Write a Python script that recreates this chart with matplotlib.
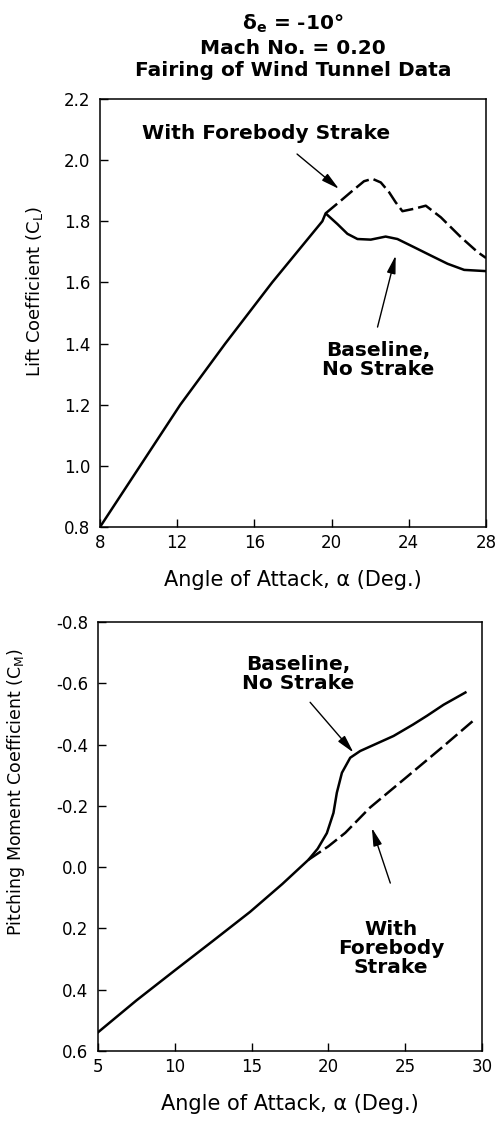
"""Lift and pitching moment vs angle of attack, baseline vs forebody strake."""

import matplotlib
matplotlib.use("Agg")
import matplotlib.pyplot as plt

plt.rcParams.update({
    "font.family": ["DejaVu Sans"],
    "mathtext.fontset": "dejavusans",
    "font.size": 12,
})

# --- lift coefficient
cl_base_alpha = [8.0, 10.08, 12.16, 14.49, 16.92, 19.52, 19.69, 20.3, 20.82,
                 21.34, 22.03, 22.8, 23.41, 24.28, 25.14, 26.01, 26.87, 28.0]
cl_base = [0.80, 1.00, 1.20, 1.40, 1.60, 1.80, 1.826, 1.791, 1.759, 1.742,
           1.740, 1.750, 1.742, 1.715, 1.688, 1.661, 1.641, 1.637]
cl_strake_alpha = [19.69, 20.47, 20.99, 21.68, 22.11, 22.55, 22.98, 23.32,
                   23.67, 24.28, 24.88, 25.66, 26.7, 27.57, 28.0]
cl_strake = [1.826, 1.867, 1.895, 1.931, 1.939, 1.927, 1.895, 1.862,
             1.833, 1.841, 1.851, 1.813, 1.748, 1.699, 1.68]

# --- pitching moment coefficient
cm_base_alpha = [5.0, 7.5, 10.0, 12.5, 14.9, 17.0, 18.7, 19.3, 19.9, 20.33,
                 20.55, 20.88, 21.42, 22.07, 23.0, 24.24, 25.5, 26.42,
                 27.5, 28.92]
cm_base = [0.539, 0.435, 0.337, 0.24, 0.146, 0.055, -0.024, -0.06, -0.111,
           -0.177, -0.243, -0.308, -0.357, -0.379, -0.40, -0.428, -0.465,
           -0.494, -0.53, -0.570]
cm_strake_alpha = [18.7, 20.0, 21.1, 22.7, 25.0, 27.5, 29.57]
cm_strake = [-0.024, -0.068, -0.112, -0.194, -0.29, -0.395, -0.484]

W, H = 501, 1123
fig = plt.figure(figsize=(W / 100, H / 100), dpi=100)


def axes_px(left, top, right, bottom):
    return fig.add_axes([left / W, 1 - bottom / H, (right - left) / W,
                         (bottom - top) / H])


def style(ax):
    for s in ax.spines.values():
        s.set_linewidth(1.1)
    ax.tick_params(direction="in", length=6, width=1.0, labelsize=12,
                   top=False, right=False)
    ax.tick_params(axis="y", pad=7)
    ax.tick_params(axis="x", pad=5)


arrow = dict(arrowstyle="-|>,head_length=0.9,head_width=0.22", color="black",
             lw=1.0, shrinkA=0, shrinkB=0)
txt = dict(fontsize=14.5, fontweight="bold", ha="center", va="center",
           linespacing=1.0)

# --- top: lift
ax = axes_px(100, 99, 486, 527)
style(ax)
ax.plot(cl_base_alpha, cl_base, color="black", lw=1.8)
ax.plot(cl_strake_alpha, cl_strake, color="black", lw=1.8, dashes=(6, 2))
ax.set_xlim(8, 28)
ax.set_ylim(0.8, 2.2)
ax.set_xticks([8, 12, 16, 20, 24, 28])
ax.set_yticks([0.8, 1.0, 1.2, 1.4, 1.6, 1.8, 2.0, 2.2])
ax.set_yticklabels(["0.8", "1.0", "1.2", "1.4", "1.6", "1.8", "2.0", "2.2"])
ax.set_xlabel("Angle of Attack, α (Deg.)", fontsize=15, labelpad=13)
ax.set_ylabel(r"Lift Coefficient (C$_\mathregular{L}$)", fontsize=13)
ax.yaxis.set_label_coords(-0.142, 0.55)
ax.text(16.62, 2.087, "With Forebody Strake", **txt)
ax.annotate("", xy=(20.38, 1.906), xytext=(18.21, 2.02), arrowprops=arrow)
ax.text(22.42, 1.345, "Baseline,\nNo Strake", **txt)
ax.annotate("", xy=(23.32, 1.688), xytext=(22.38, 1.454), arrowprops=arrow)

fig.text(293 / W, 1 - 24 / H, r"δ$_\mathregular{e}$ = -10°", fontsize=14.5,
         fontweight="bold", ha="center", va="center")
fig.text(293 / W, 1 - 48 / H, "Mach No. = 0.20", fontsize=14.5,
         fontweight="bold", ha="center", va="center")
fig.text(293 / W, 1 - 71 / H, "Fairing of Wind Tunnel Data", fontsize=14.5,
         fontweight="bold", ha="center", va="center")

# --- bottom: pitching moment
ax = axes_px(98, 622, 482, 1051)
style(ax)
ax.plot(cm_base_alpha, cm_base, color="black", lw=1.8)
ax.plot(cm_strake_alpha, cm_strake, color="black", lw=1.8, dashes=(6, 2))
ax.set_xlim(5, 30)
ax.set_ylim(0.6, -0.8)
ax.set_xticks([5, 10, 15, 20, 25, 30])
ax.set_yticks([-0.8, -0.6, -0.4, -0.2, 0.0, 0.2, 0.4, 0.6])
ax.set_yticklabels(["-0.8", "-0.6", "-0.4", "-0.2", "0.0", "0.2", "0.4",
                    "0.6"])
ax.set_xlabel("Angle of Attack, α (Deg.)", fontsize=15, labelpad=13)
ax.set_ylabel(r"Pitching Moment Coefficient (C$_\mathregular{M}$)",
              fontsize=12.5)
ax.yaxis.set_label_coords(-0.185, 0.604)
ax.text(18.03, -0.63, "Baseline,\nNo Strake", **txt)
ax.annotate("", xy=(21.63, -0.374), xytext=(18.81, -0.538), arrowprops=arrow)
ax.text(24.09, 0.265, "With\nForebody\nStrake", **txt)
ax.annotate("", xy=(22.83, -0.128), xytext=(24.03, 0.052), arrowprops=arrow)

fig.savefig("out.png", dpi=100, facecolor="white")
